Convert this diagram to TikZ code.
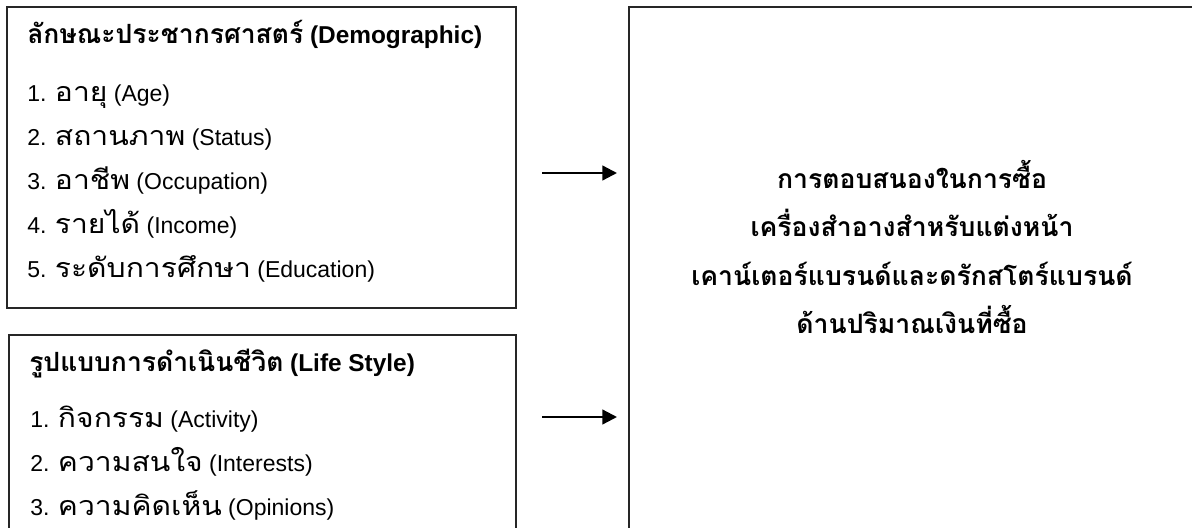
\documentclass[tikz,border=0pt]{standalone}
\usepackage{fontspec}
\setmainfont{Liberation Sans}
\newfontfamily\thai[Script=Thai,FakeStretch=1.12]{Loma}
\newfontfamily\thaibold[Script=Thai]{Loma}
\usetikzlibrary{arrows.meta,fit}
\newlength\mywd
\newcommand\fitsz[4]{\settowidth\mywd{#2\fontsize{10pt}{12pt}\selectfont #3}\pgfmathsetmacro#1{10*#4/\mywd}}
\newcommand\thR[1]{{\thai\fontsize{\tsz pt}{\tsz pt}\selectfont #1}}
\newcommand\thB[1]{{\thaibold\bfseries\fontsize{\tbsz pt}{\tbsz pt}\selectfont #1}}
\newcommand\thM[1]{{\thaibold\bfseries\fontsize{\rsz pt}{\rsz pt}\selectfont #1}}
\begin{document}
\fitsz\tsz{\thai}{ระดับการศึกษา}{147}%
\fitsz\tbsz{\thaibold\bfseries}{ลักษณะประชากรศาสตร์}{207}%
\fitsz\rsz{\thaibold\bfseries}{การตอบสนองในการซื้อ}{202.5}%
\begin{tikzpicture}[x=0.75pt,y=-0.75pt,
  box/.style={draw=black!85, line width=1.5pt, inner sep=0pt, outer sep=0pt},
  txt/.style={anchor=base west, inner sep=0pt, font=\fontsize{17.25pt}{17.25pt}\selectfont},
  head/.style={anchor=base west, inner sep=0pt, font=\fontsize{18.3pt}{18.3pt}\selectfont\bfseries},
  rtxt/.style={anchor=base, inner sep=0pt},
  arr/.style={-{Triangle[length=11pt,width=11pt]}, line width=1.7pt, shorten >=9pt}]
\useasboundingbox (0,0) rectangle (1192,528);
\clip (0,0) rectangle (1192,528);
% boxes
\node[box, fit={(7,7) (516,308)}] (demo) {};
\node[box, fit={(9,335) (516,600)}] (life) {};
\node[box, fit={(629,7) (1260,600)}] (resp) {};
% demographic
\node[head] (d0) at (27,44) {\thB{ลักษณะประชากรศาสตร์} (Demographic)};
\node[txt] (d1) at (27,101) {1. \thR{อายุ} (Age)};
\node[txt] (d2) at (27,145) {2. \thR{สถานภาพ} (Status)};
\node[txt] (d3) at (27,189) {3. \thR{อาชีพ} (Occupation)};
\node[txt] (d4) at (27,233) {4. \thR{รายได้} (Income)};
\node[txt] (d5) at (27,277.5) {5. \thR{ระดับการศึกษา} (Education)};
% life style
\node[head] (l0) at (29,371) {\thB{รูปแบบการดำเนินชีวิต} (Life Style)};
\node[txt] (l1) at (30,427) {1. \thR{กิจกรรม} (Activity)};
\node[txt] (l2) at (30,471) {2. \thR{ความสนใจ} (Interests)};
\node[txt] (l3) at (30,515) {3. \thR{ความคิดเห็น} (Opinions)};
% response
\node[rtxt] (r1) at (912,188) {\thM{การตอบสนองในการซื้อ}};
\node[rtxt] (r2) at (912,236.5) {\thM{เครื่องสำอางสำหรับแต่งหน้า}};
\node[rtxt] (r3) at (912,285) {\thM{เคาน์เตอร์แบรนด์และดรักสโตร์แบรนด์}};
\node[rtxt] (r4) at (912,333.5) {\thM{ด้านปริมาณเงินที่ซื้อ}};
% arrows
\coordinate (s1) at (542,173);
\coordinate (s2) at (542,417);
\draw[arr] (s1) -- (s1 -| resp.west);
\draw[arr] (s2) -- (s2 -| resp.west);
\end{tikzpicture}
\end{document}
